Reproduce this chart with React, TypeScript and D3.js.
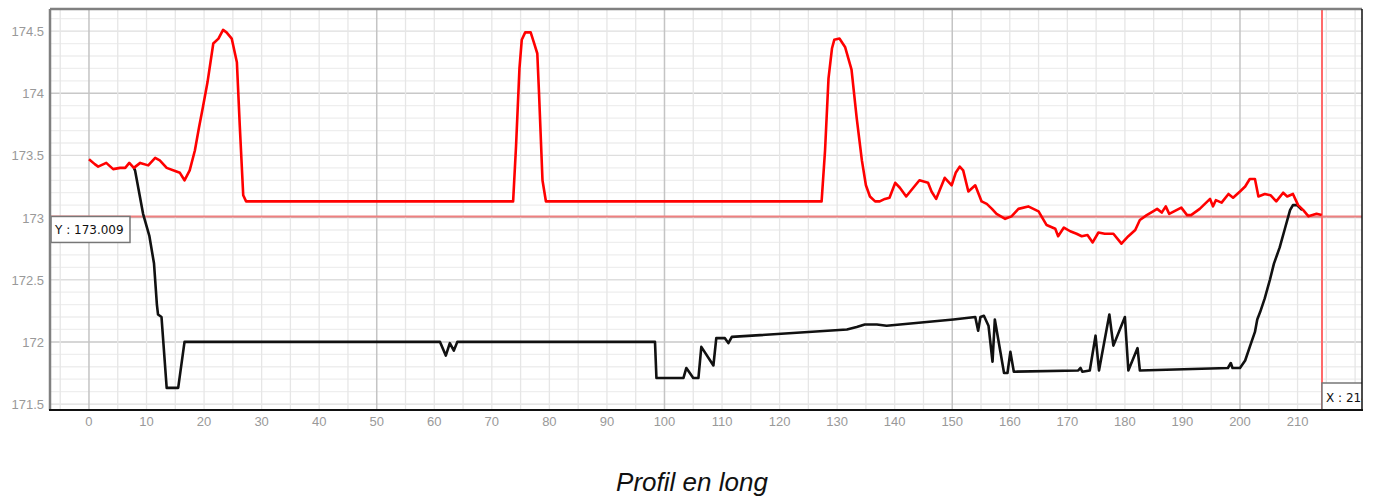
import React from "react";
import * as d3 from "d3";

const redX = [0, 1.0, 1.6, 3.0, 4.2, 5.4, 6.3, 7.0, 7.8, 8.9, 10.3, 11.5, 12.3, 13.5, 15.2, 15.8, 16.6, 17.5, 18.4, 19.1, 19.8, 20.6, 21.6, 22.5, 23.3, 23.9, 24.8, 25.7, 26.2, 26.8, 27.3,
  73.7, 74.2, 74.8, 75.2, 75.8, 76.75, 77.3, 77.9, 78.2, 78.8, 79.4,
  127.3, 127.9, 128.5, 129.1, 129.5, 130.4, 131.4, 132.5, 133.4, 134.3, 135.0, 135.7, 136.6, 137.4, 138.3, 139.1, 140.1, 140.9, 142.0, 142.7, 144.3, 145.8, 146.4, 147.2, 148.7, 149.9, 150.6, 151.3, 151.9, 152.8, 154.0, 155.1, 156.0, 156.9, 157.7, 159.2, 160.3, 161.5, 163.2, 165.0, 166.4, 167.9, 168.4, 169.4, 170.5, 171.6, 172.5, 173.5, 174.4, 175.4, 176.5, 178.0, 179.4, 180.6, 181.8, 182.6, 183.8, 184.9, 185.6, 186.4, 187.1, 187.7, 189.8, 190.8, 191.5, 193.0, 194.8, 195.3, 195.8, 196.8, 198.0, 198.8, 200.0, 200.9, 201.7, 202.6, 203.2, 204.3, 205.3, 206.3, 207.5, 208.2, 209.2, 210.1, 211.0, 211.9, 213.3, 214.2];
const redY = [173.47, 173.43, 173.41, 173.44, 173.39, 173.40, 173.40, 173.44, 173.40, 173.44, 173.42, 173.48, 173.46, 173.40, 173.37, 173.36, 173.30, 173.38, 173.54, 173.72, 173.89, 174.09, 174.40, 174.44, 174.51, 174.49, 174.44, 174.25, 173.74, 173.18, 173.13,
  173.13, 173.57, 174.20, 174.43, 174.49, 174.49, 174.41, 174.32, 174.00, 173.30, 173.13,
  173.13, 173.54, 174.12, 174.36, 174.43, 174.44, 174.37, 174.19, 173.80, 173.46, 173.26, 173.17, 173.13, 173.13, 173.15, 173.16, 173.28, 173.24, 173.17, 173.21, 173.30, 173.28, 173.21, 173.15, 173.32, 173.26, 173.36, 173.41, 173.38, 173.21, 173.26, 173.13, 173.11, 173.07, 173.03, 172.99, 173.01, 173.07, 173.09, 173.05, 172.94, 172.91, 172.85, 172.92, 172.89, 172.87, 172.85, 172.86, 172.80, 172.88, 172.87, 172.87, 172.79, 172.85, 172.90, 172.98, 173.02, 173.05, 173.07, 173.04, 173.09, 173.03, 173.08, 173.02, 173.02, 173.07, 173.15, 173.09, 173.14, 173.12, 173.19, 173.16, 173.21, 173.25, 173.31, 173.31, 173.17, 173.19, 173.18, 173.13, 173.20, 173.17, 173.19, 173.10, 173.06, 173.01, 173.03, 173.02];

const blackX = [7.8, 8.0, 9.4, 10.5, 11.3, 11.8, 12.0, 12.6, 12.9, 13.5, 15.5, 16.6, 61.0, 62.0, 62.7, 63.4, 64.0, 98.35, 98.6, 103.3, 103.8, 105.0, 105.9, 106.4, 108.5, 109.0, 110.5, 111.1, 111.7, 131.7, 133.4, 134.8, 136.9, 138.6, 150.2, 154.0, 154.5, 154.9, 155.5, 156.3, 157.0, 157.4, 159.0, 159.6, 160.1, 160.7, 171.9, 172.3, 172.6, 173.9, 174.9, 175.5, 177.3, 178.0, 180.0, 180.6, 182.2, 182.6, 197.9, 198.4, 198.7, 200.0, 200.9, 201.7, 202.6, 203.0, 203.5, 204.3, 205.2, 205.9, 206.9, 207.8, 208.7, 209.2, 209.9, 210.8];
const blackY = [173.40, 173.38, 173.03, 172.85, 172.63, 172.30, 172.22, 172.20, 172.01, 171.63, 171.63, 172.00, 172.00, 171.89, 171.99, 171.93, 172.00, 172.00, 171.71, 171.71, 171.79, 171.71, 171.71, 171.96, 171.81, 172.03, 172.03, 171.99, 172.04, 172.10, 172.12, 172.14, 172.14, 172.13, 172.18, 172.20, 172.09, 172.20, 172.21, 172.13, 171.84, 172.18, 171.75, 171.75, 171.92, 171.76, 171.77, 171.79, 171.76, 171.77, 172.05, 171.77, 172.22, 171.97, 172.20, 171.77, 171.95, 171.77, 171.79, 171.83, 171.79, 171.79, 171.85, 171.96, 172.08, 172.18, 172.24, 172.35, 172.50, 172.63, 172.76, 172.91, 173.06, 173.10, 173.10, 173.06];

const xTickLabels = [0, 10, 20, 30, 40, 50, 60, 70, 80, 90, 100, 110, 120, 130, 140, 150, 160, 170, 180, 190, 200, 210];
const yTickLabels = [171.5, 172, 172.5, 173, 173.5, 174, 174.5];
const cursorX = 214.25;
const cursorY = 173.009;
const title = "Profil en long";

const W = 1379, H = 501;
const L = 51, R = 1362, T = 9, B = 410;

export default function App() {
  const x = d3.scaleLinear().domain([-6.6, 221.2]).range([L, R]);
  const y = d3.scaleLinear().domain([171.452, 174.678]).range([B, T]);
  const line = d3.line<[number, number]>().x(d => x(d[0])).y(d => y(d[1]));
  const redPts: [number, number][] = redX.map((v, i) => [v, redY[i]]);
  const blackPts: [number, number][] = blackX.map((v, i) => [v, blackY[i]]);

  const vGrid = d3.range(-5, 225, 5);
  const hGrid = d3.range(0, 33).map(i => +(171.5 + i * 0.1).toFixed(1));

  const fmt = (v: number) => String(v);
  const cx = x(cursorX), cy = y(cursorY);

  return (
    <svg width={W} height={H} style={{ position: "absolute", left: 0, top: 0, background: "#fff" }}>
      <defs>
        <clipPath id="plot">
          <rect x={L} y={T} width={R - L} height={B - T} />
        </clipPath>
      </defs>
      <rect x={0} y={0} width={W} height={H} fill="#fff" />
      <g clipPath="url(#plot)">
        {hGrid.map(v => {
          const r = Math.round(v * 10);
          const major = r % 10 === 0;
          const half = r % 5 === 0;
          return (
            <line key={"h" + v} x1={L} x2={R} y1={y(v)} y2={y(v)}
              stroke={major ? "#c8c8c8" : half ? "#dedede" : "#eeeeee"} strokeWidth={major ? 1.5 : 1.3} />
          );
        })}
        {vGrid.map(v => {
          const major = v % 50 === 0;
          return (
            <line key={"v" + v} x1={x(v)} x2={x(v)} y1={T} y2={B}
              stroke={major ? "#c4c4c4" : "#e6e6e6"} strokeWidth={major ? 1.5 : 1.3} />
          );
        })}
        <line x1={L} x2={R} y1={cy} y2={cy} stroke="#ee8080" strokeWidth={2} />
        <line x1={cx} x2={cx} y1={T} y2={B} stroke="#ff6a6a" strokeWidth={2} />
        <path d={line(blackPts) || ""} fill="none" stroke="#111" strokeWidth={2.6} strokeLinejoin="round" />
        <path d={line(redPts) || ""} fill="none" stroke="#ff0000" strokeWidth={2.6} strokeLinejoin="round" />
        <rect x={L} y={cy} width={79} height={26} fill="#fff" stroke="#777" strokeWidth={1.5} />
        <text x={55} y={cy + 18} fontFamily="DejaVu Sans" fontSize={12} fill="#111">{"Y : " + cursorY.toFixed(3)}</text>
        <rect x={cx} y={B - 27} width={80} height={27} fill="#fff" stroke="#777" strokeWidth={1.5} />
        <text x={cx + 4} y={B - 8} fontFamily="DejaVu Sans" fontSize={12} fill="#111">{"X : " + cursorX.toFixed(2)}</text>
      </g>
      <line x1={L - 1} x2={R} y1={T} y2={T} stroke="#808080" strokeWidth={2.5} />
      <line x1={L - 1} x2={L - 1} y1={T} y2={B} stroke="#808080" strokeWidth={2.5} />
      <line x1={R} x2={R} y1={T} y2={B} stroke="#111" strokeWidth={1.5} />
      <line x1={L - 2} x2={R + 1} y1={B} y2={B} stroke="#111" strokeWidth={2} />
      {xTickLabels.map(v => (
        <text key={"xt" + v} x={x(v)} y={426} textAnchor="middle" fontFamily="Liberation Sans, Arial, sans-serif" fontSize={13} fill="#999">{fmt(v)}</text>
      ))}
      {yTickLabels.map(v => (
        <text key={"yt" + v} x={44} y={y(v) + 5} textAnchor="end" fontFamily="Liberation Sans, Arial, sans-serif" fontSize={13} fill="#999">{fmt(v)}</text>
      ))}
      <text x={692} y={491} textAnchor="middle" fontFamily="Liberation Sans, Arial, sans-serif" fontStyle="italic" fontSize={26} fill="#111">{title}</text>
    </svg>
  );
}
